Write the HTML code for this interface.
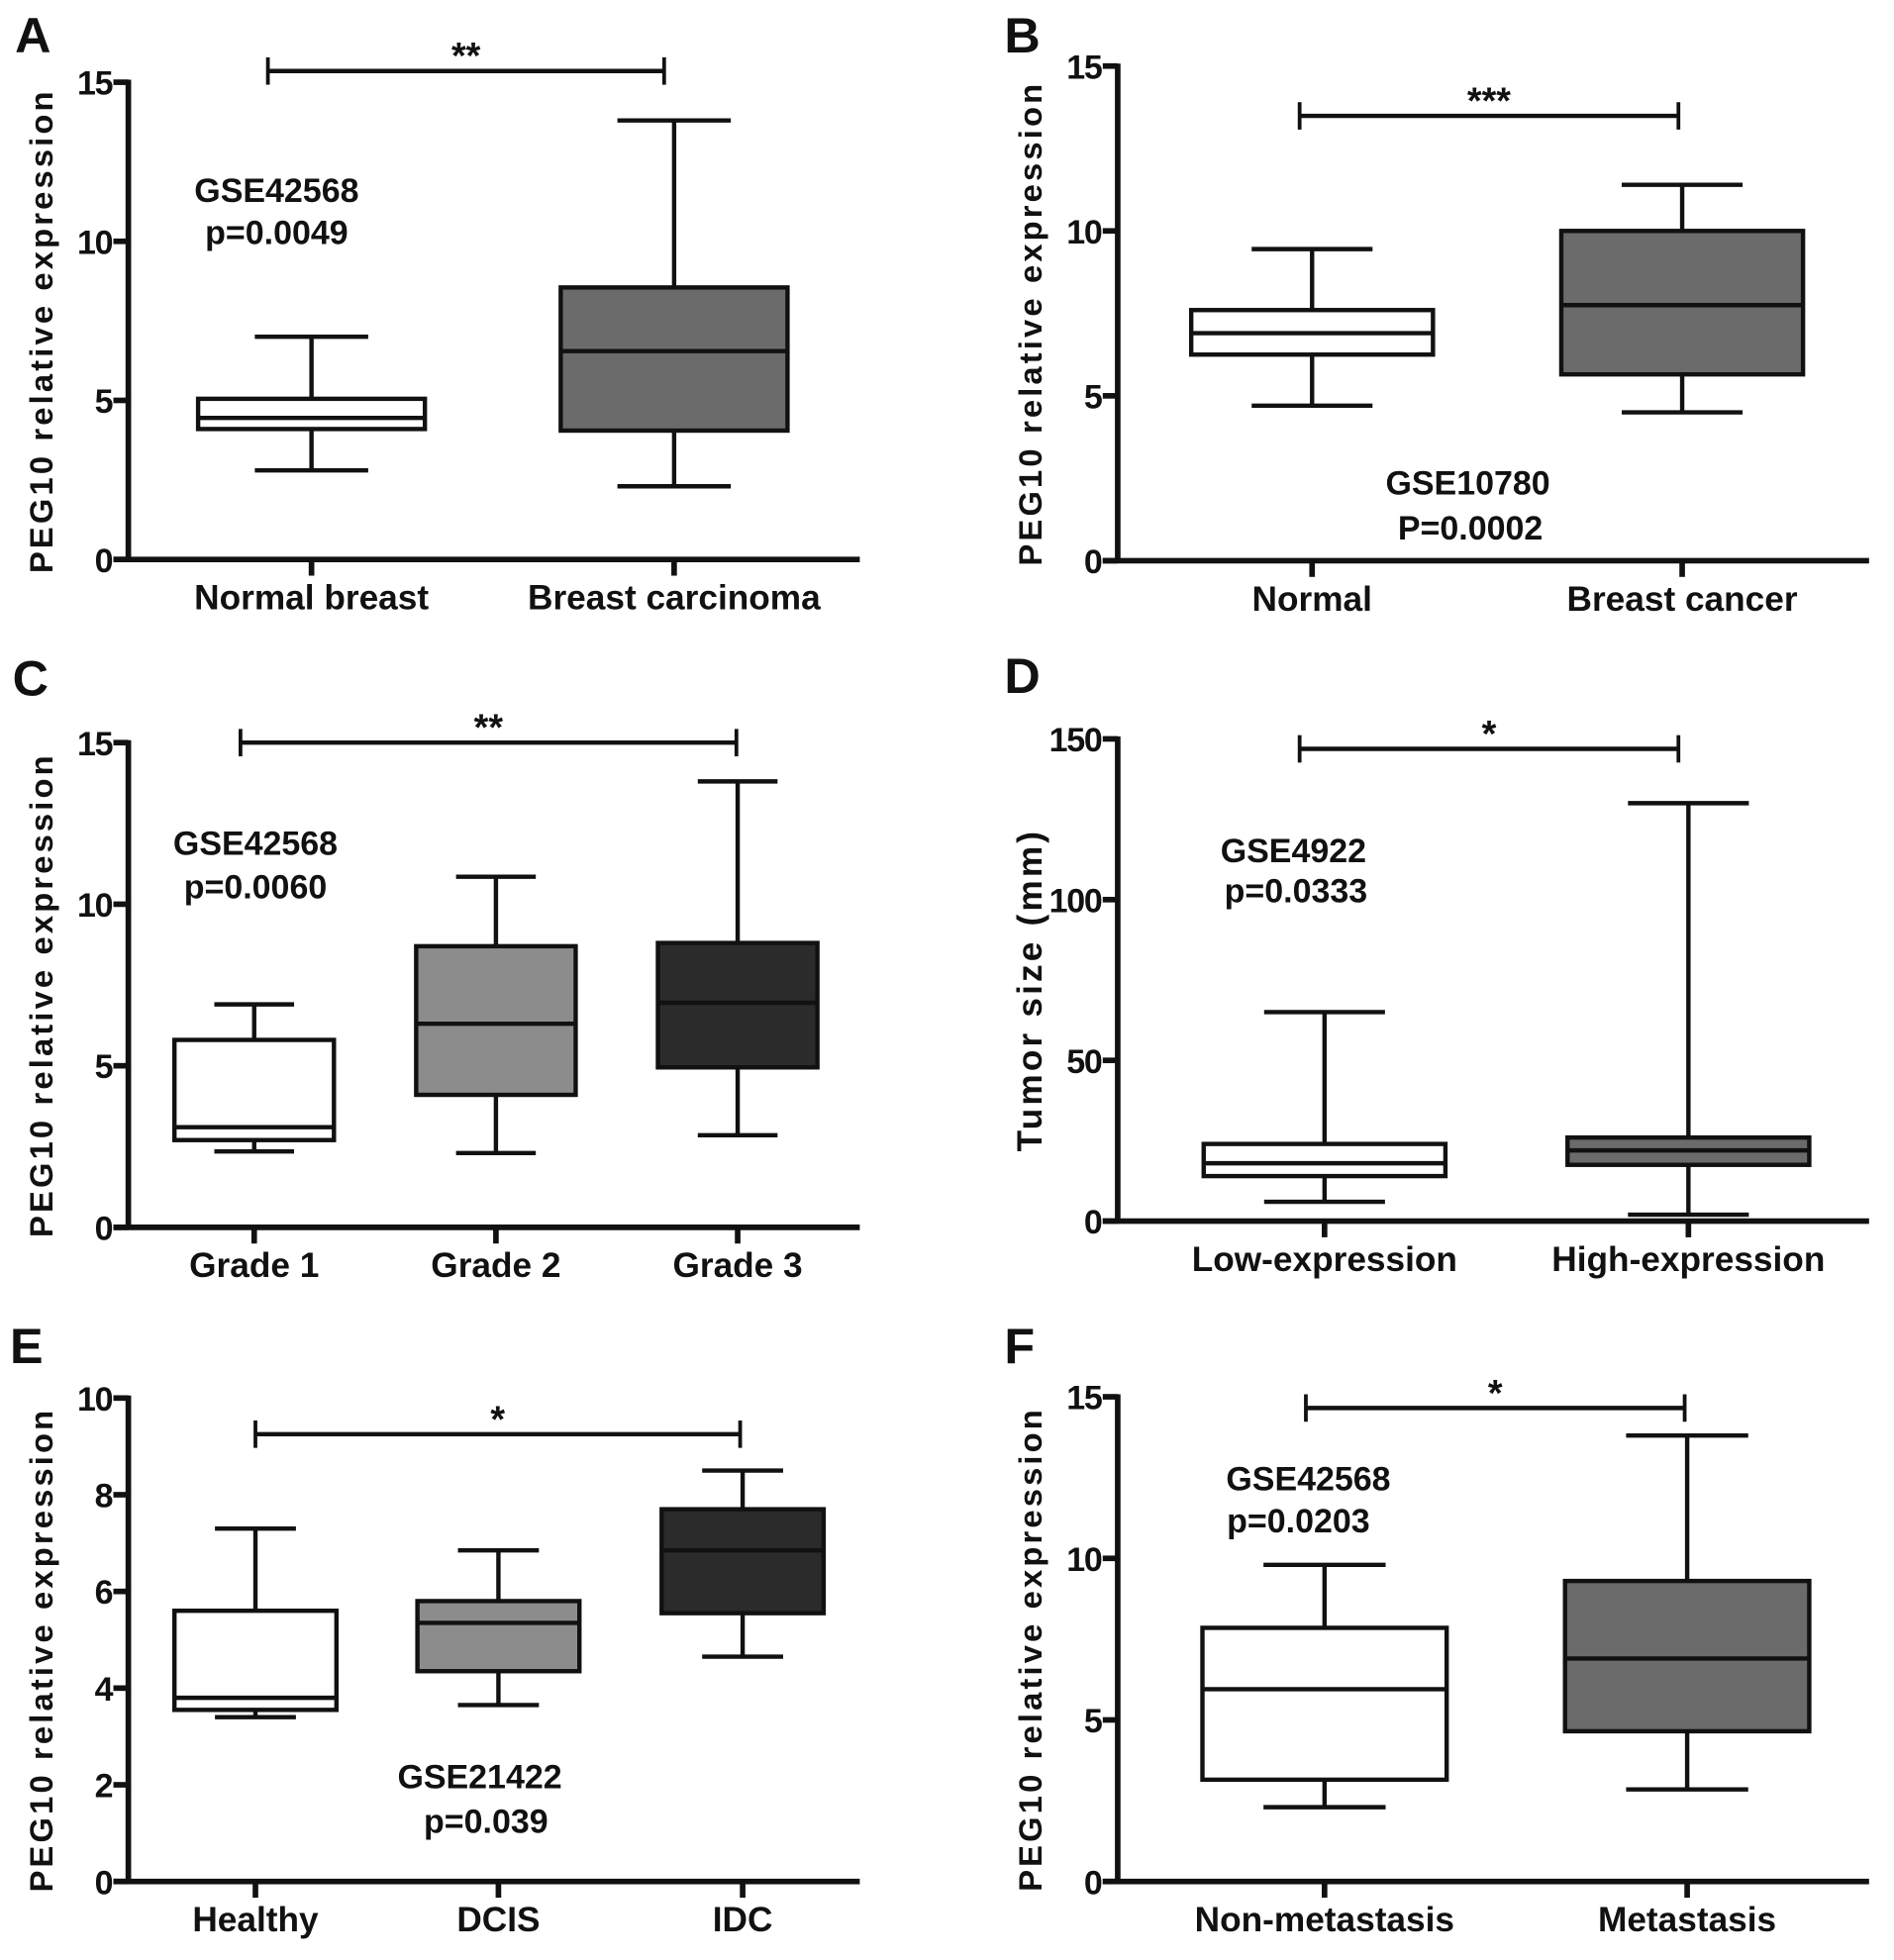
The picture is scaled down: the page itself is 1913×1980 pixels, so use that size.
<!DOCTYPE html>
<html><head><meta charset="utf-8"><style>
html,body{margin:0;padding:0;background:#fff}
svg{display:block}
text{font-family:"Liberation Sans",sans-serif;font-weight:bold;fill:#111}
</style></head><body>
<svg id="fig" width="1913" height="1980" viewBox="0 0 1520 1573" preserveAspectRatio="none" xmlns="http://www.w3.org/2000/svg"></svg>
<script>
// ---- data ----
const catsA=["Normal breast","Breast carcinoma"];
const boxesA=[[2.8,4.1,4.45,5.05,7.0],[2.3,4.05,6.55,8.55,13.8]];
const ticksA=[0,5,10,15];
const catsB=["Normal","Breast cancer"];
const boxesB=[[4.7,6.25,6.9,7.6,9.45],[4.5,5.65,7.75,10.0,11.4]];
const ticksB=[0,5,10,15];
const catsC=["Grade 1","Grade 2","Grade 3"];
const boxesC=[[2.35,2.7,3.1,5.8,6.9],[2.3,4.1,6.3,8.7,10.85],[2.85,4.95,6.95,8.8,13.8]];
const ticksC=[0,5,10,15];
const catsD=["Low-expression","High-expression"];
const boxesD=[[6,14,18,24,65],[2,17.5,22,26,130]];
const ticksD=[0,50,100,150];
const catsE=["Healthy","DCIS","IDC"];
const boxesE=[[3.4,3.55,3.8,5.6,7.3],[3.65,4.35,5.35,5.8,6.85],[4.65,5.55,6.85,7.7,8.5]];
const ticksE=[0,2,4,6,8,10];
const catsF=["Non-metastasis","Metastasis"];
const boxesF=[[2.3,3.15,5.95,7.85,9.8],[2.85,4.65,6.9,9.3,13.8]];
const ticksF=[0,5,10,15];

const panels=[
 {id:"a",L:"A",lx:12,ly:42,ax:103,x1:690,y0:449,ymax:15,yTop:66,cx:[250,541],hw:91,cats:catsA,boxes:boxesA,ticks:ticksA,fills:["#fff","#6b6b6b"],br:[215,533,57,"**"],txt:[["GSE42568",222,162],["p=0.0049",222,196]],yl:"PEG10 relative expression",ylx:33,yls:26},
 {id:"b",L:"B",lx:806,ly:42,ax:897,x1:1500,y0:450,ymax:15,yTop:53,cx:[1053,1350],hw:97,cats:catsB,boxes:boxesB,ticks:ticksB,fills:["#fff","#6b6b6b"],br:[1043,1347,93,"***"],txt:[["GSE10780",1178,397],["P=0.0002",1180,433]],yl:"PEG10 relative expression",ylx:827,yls:26},
 {id:"c",L:"C",lx:10,ly:558,ax:103,x1:690,y0:985,ymax:15,yTop:596,cx:[204,398,592],hw:64,cats:catsC,boxes:boxesC,ticks:ticksC,fills:["#fff","#8c8c8c","#2b2b2b"],br:[193,591,596,"**"],txt:[["GSE42568",205,686],["p=0.0060",205,721]],yl:"PEG10 relative expression",ylx:33,yls:26},
 {id:"d",L:"D",lx:806,ly:556,ax:897,x1:1500,y0:980,ymax:150,yTop:593,cx:[1063,1355],hw:97,cats:catsD,boxes:boxesD,ticks:ticksD,fills:["#fff","#6b6b6b"],br:[1043,1347,601,"*"],txt:[["GSE4922",1038,692],["p=0.0333",1040,724]],yl:"Tumor size (mm)",ylx:827,yls:28},
 {id:"e",L:"E",lx:8,ly:1094,ax:103,x1:690,y0:1510,ymax:10,yTop:1122,cx:[205,400,596],hw:65,cats:catsE,boxes:boxesE,ticks:ticksE,fills:["#fff","#8c8c8c","#2b2b2b"],br:[205,594,1151,"*"],txt:[["GSE21422",385,1435],["p=0.039",390,1471]],yl:"PEG10 relative expression",ylx:33,yls:26},
 {id:"f",L:"F",lx:806,ly:1094,ax:897,x1:1500,y0:1510,ymax:15,yTop:1121,cx:[1063,1354],hw:98,cats:catsF,boxes:boxesF,ticks:ticksF,fills:["#fff","#6b6b6b"],br:[1048,1352,1130,"*"],txt:[["GSE42568",1050,1196],["p=0.0203",1042,1230]],yl:"PEG10 relative expression",ylx:827,yls:26}
];
const NS="http://www.w3.org/2000/svg";
const svg=document.getElementById("fig");
function mk(tag,attrs,parent){const e=document.createElementNS(NS,tag);for(const k in attrs)e.setAttribute(k,attrs[k]);parent.appendChild(e);return e;}
function line(g,x1,y1,x2,y2,w){return mk("line",{x1,y1,x2,y2,stroke:"#111","stroke-width":w||4.5},g);}
panels.forEach(p=>{
 const g=mk("g",{},svg);
 
 
 const y=v=>p.y0-(v/p.ymax)*(p.y0-p.yTop);
 const lt=mk("text",{x:p.lx,y:p.ly,"font-size":40},g);lt.textContent=p.L;
 
 
 const ya=line(g,p.ax,y(p.ticks[p.ticks.length-1])-2,p.ax,p.y0+2);
 
 
 const xa=line(g,p.ax-12,p.y0,p.x1,p.y0);
 
 
 p.ticks.forEach(t=>{
  line(g,p.ax-12,y(t),p.ax,y(t));
  const tx=mk("text",{x:p.ax-13,y:y(t)+10,"font-size":27,"text-anchor":"end","letter-spacing":"-1"},g);tx.textContent=t;
  
  
 });
 const yl=mk("text",{x:0,y:0,"font-size":p.yls,"text-anchor":"middle","letter-spacing":"2.5",transform:`translate(${p.ylx+9},${(p.y0+p.yTop)/2+8}) rotate(-90)`},g);yl.textContent=p.yl;
 
 
 p.cats.forEach((c,i)=>{
  const cx=p.cx[i],b=p.boxes[i],hw=p.hw;
  line(g,cx,p.y0,cx,p.y0+13);
  const ct=mk("text",{x:cx,y:p.y0+40,"font-size":28,"text-anchor":"middle"},g);ct.textContent=c;
  
  
  const bg=mk("g",{},g);
  
  
  line(bg,cx,y(b[0]),cx,y(b[4]),3.5);
  line(bg,cx-hw/2,y(b[0]),cx+hw/2,y(b[0]),3.5);
  line(bg,cx-hw/2,y(b[4]),cx+hw/2,y(b[4]),3.5);
  mk("rect",{x:cx-hw,y:y(b[3]),width:2*hw,height:y(b[1])-y(b[3]),fill:p.fills[i],stroke:"#111","stroke-width":3.5},bg);
  line(bg,cx-hw,y(b[2]),cx+hw,y(b[2]),3.5);
 });
 const br=mk("g",{},g);
 
 
 line(br,p.br[0],p.br[2],p.br[1],p.br[2],3.5);
 line(br,p.br[0],p.br[2]-11,p.br[0],p.br[2]+11,3);
 line(br,p.br[1],p.br[2]-11,p.br[1],p.br[2]+11,3);
 const st=mk("text",{x:(p.br[0]+p.br[1])/2,y:p.br[2]-2,"font-size":30,"text-anchor":"middle"},br);st.textContent=p.br[3];
 p.txt.forEach(t=>{
  const e=mk("text",{x:t[1],y:t[2],"font-size":27,"text-anchor":"middle"},g);e.textContent=t[0];
  
  
 });
});
</script>
</body></html>
